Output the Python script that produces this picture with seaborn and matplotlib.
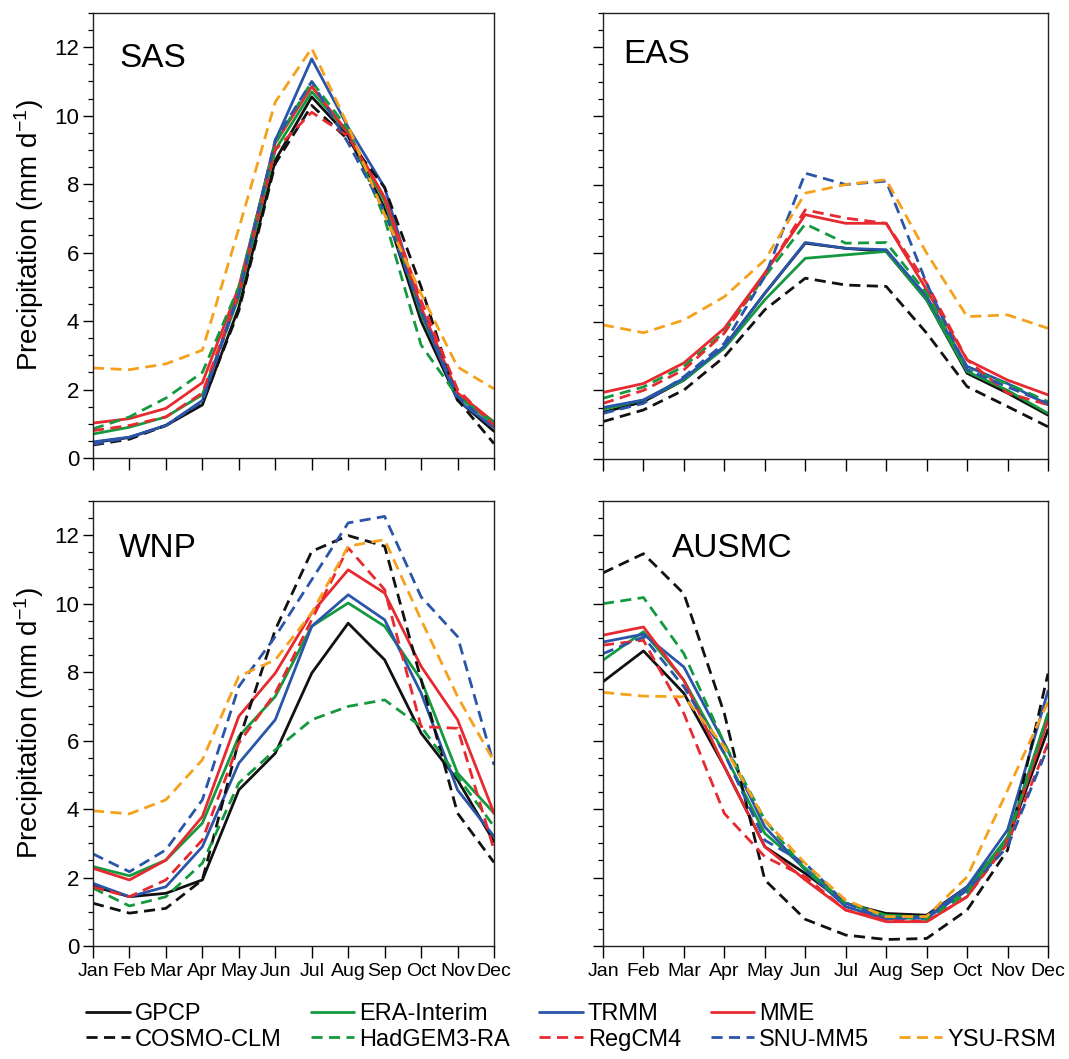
"""
    monthly precipitation climatology over four monsoon regions
"""

import pandas as pd
import matplotlib.pyplot as plt
import seaborn as sns
from matplotlib.lines import Line2D

MONTHS = ['Jan', 'Feb', 'Mar', 'Apr', 'May', 'Jun',
          'Jul', 'Aug', 'Sep', 'Oct', 'Nov', 'Dec']

SERIES = ['GPCP', 'ERA-Interim', 'TRMM', 'MME', 'COSMO-CLM',
          'HadGEM3-RA', 'RegCM4', 'SNU-MM5', 'YSU-RSM']

REGIONS = ['SAS', 'EAS', 'WNP', 'AUSMC']

# monthly means (mm/day), Jan..Dec
SAS = {
    'GPCP':        [0.45, 0.6, 0.95, 1.55, 4.4, 8.7, 10.55, 9.4, 7.3, 4.0, 1.7, 0.78],
    'ERA-Interim': [0.7, 0.9, 1.2, 1.85, 4.7, 9.0, 10.7, 9.5, 7.5, 4.2, 1.8, 1.0],
    'TRMM':        [0.47, 0.61, 0.95, 1.68, 4.9, 9.27, 11.66, 9.66, 7.9, 4.3, 1.68, 0.9],
    'MME':         [1.02, 1.15, 1.45, 2.2, 5.0, 9.2, 10.85, 9.5, 7.6, 4.4, 1.9, 1.05],
    'COSMO-CLM':   [0.38, 0.55, 0.95, 1.6, 4.3, 8.6, 10.3, 9.3, 7.9, 5.0, 1.7, 0.42],
    'HadGEM3-RA':  [0.85, 1.2, 1.75, 2.5, 5.0, 9.2, 11.0, 9.6, 7.0, 3.3, 1.8, 1.05],
    'RegCM4':      [0.8, 0.95, 1.2, 1.9, 4.8, 9.0, 10.1, 9.4, 7.6, 4.6, 2.0, 0.95],
    'SNU-MM5':     [0.4, 0.6, 0.95, 1.65, 4.8, 9.3, 11.0, 9.2, 7.2, 4.3, 1.8, 0.85],
    'YSU-RSM':     [2.63, 2.58, 2.75, 3.15, 6.7, 10.4, 11.97, 9.7, 7.1, 4.8, 2.66, 2.02],
}

EAS = {
    'GPCP':        [1.36, 1.67, 2.3, 3.28, 4.83, 6.29, 6.14, 6.05, 4.64, 2.5, 1.92, 1.28],
    'ERA-Interim': [1.45, 1.72, 2.3, 3.23, 4.64, 5.85, 5.95, 6.05, 4.64, 2.55, 2.0, 1.33],
    'TRMM':        [1.5, 1.72, 2.35, 3.28, 4.83, 6.31, 6.14, 6.1, 4.74, 2.7, 2.2, 1.58],
    'MME':         [1.94, 2.2, 2.8, 3.81, 5.42, 7.12, 6.87, 6.87, 4.93, 2.89, 2.3, 1.87],
    'COSMO-CLM':   [1.09, 1.43, 2.01, 2.98, 4.35, 5.27, 5.07, 5.03, 3.67, 2.11, 1.53, 0.94],
    'HadGEM3-RA':  [1.77, 2.1, 2.7, 3.7, 5.32, 6.85, 6.29, 6.31, 4.83, 2.6, 2.2, 1.67],
    'RegCM4':      [1.62, 2.0, 2.6, 3.67, 5.4, 7.26, 7.02, 6.87, 5.12, 2.89, 1.92, 1.58],
    'SNU-MM5':     [1.33, 1.62, 2.4, 3.37, 5.32, 8.33, 8.0, 8.1, 5.12, 2.6, 2.1, 1.62],
    'YSU-RSM':     [3.91, 3.68, 4.05, 4.73, 5.8, 7.75, 8.0, 8.14, 6.0, 4.15, 4.2, 3.81],
}

WNP = {
    'GPCP':        [1.75, 1.44, 1.54, 1.93, 4.56, 5.63, 7.97, 9.43, 8.36, 6.22, 4.85, 3.05],
    'ERA-Interim': [2.32, 2.05, 2.51, 3.59, 6.12, 7.29, 9.34, 10.02, 9.34, 7.78, 5.05, 3.88],
    'TRMM':        [1.83, 1.44, 1.73, 2.9, 5.34, 6.61, 9.34, 10.26, 9.53, 7.39, 4.56, 3.2],
    'MME':         [2.27, 1.93, 2.51, 3.78, 6.71, 7.97, 9.73, 10.99, 10.31, 8.17, 6.61, 3.88],
    'COSMO-CLM':   [1.25, 0.96, 1.1, 1.93, 6.0, 9.24, 11.53, 11.99, 11.68, 7.78, 3.88, 2.44],
    'HadGEM3-RA':  [1.69, 1.17, 1.44, 2.42, 4.76, 5.73, 6.61, 7.0, 7.19, 6.41, 4.95, 3.49],
    'RegCM4':      [1.72, 1.44, 1.93, 3.1, 5.93, 7.39, 9.53, 11.63, 10.41, 6.41, 6.36, 2.81],
    'SNU-MM5':     [2.69, 2.17, 2.81, 4.27, 7.58, 9.04, 10.7, 12.36, 12.55, 10.2, 9.04, 5.29],
    'YSU-RSM':     [3.95, 3.86, 4.27, 5.44, 7.88, 8.36, 9.73, 11.68, 11.87, 9.53, 7.29, 5.39],
}

AUSMC = {
    'GPCP':        [7.72, 8.62, 7.38, 5.24, 2.9, 2.12, 1.25, 0.95, 0.9, 1.73, 3.09, 6.32],
    'ERA-Interim': [8.35, 9.18, 7.76, 5.62, 3.29, 2.27, 1.25, 0.9, 0.84, 1.63, 3.19, 6.79],
    'TRMM':        [8.88, 9.11, 8.15, 5.92, 3.48, 2.22, 1.15, 0.78, 0.86, 1.73, 3.39, 7.45],
    'MME':         [9.08, 9.32, 7.76, 5.24, 2.9, 1.93, 1.05, 0.71, 0.71, 1.44, 3.09, 6.6],
    'COSMO-CLM':   [10.9, 11.46, 10.29, 6.79, 1.93, 0.78, 0.32, 0.19, 0.22, 1.05, 2.8, 7.96],
    'HadGEM3-RA':  [10.0, 10.18, 8.54, 5.92, 3.68, 2.22, 1.25, 0.86, 0.78, 1.54, 3.09, 6.79],
    'RegCM4':      [8.79, 8.93, 6.79, 3.87, 2.61, 2.02, 1.05, 0.76, 0.71, 1.44, 3.0, 5.92],
    'SNU-MM5':     [8.54, 9.03, 7.57, 5.62, 3.09, 2.41, 1.25, 0.81, 0.81, 1.63, 2.9, 5.82],
    'YSU-RSM':     [7.41, 7.3, 7.28, 5.82, 3.68, 2.41, 1.34, 0.86, 0.86, 2.02, 4.55, 7.13],
}

COLORS = {
    'GPCP': '#111111', 'ERA-Interim': '#14993f', 'TRMM': '#2a55a8',
    'MME': '#e62a30', 'COSMO-CLM': '#111111', 'HadGEM3-RA': '#14993f',
    'RegCM4': '#e62a30', 'SNU-MM5': '#2a55a8', 'YSU-RSM': '#f5a11c',
}
DASH = (4.0, 2.3)
DASHES = {s: ('' if i < 4 else DASH) for i, s in enumerate(SERIES)}


def to_long(region_data):
    rows = []
    for s in SERIES:
        for m, v in enumerate(region_data[s]):
            rows.append({'month': m, 'precip': v, 'series': s})
    return pd.DataFrame(rows)


sns.set_style('ticks')
plt.rcParams['font.family'] = ['Liberation Sans', 'DejaVu Sans']
plt.rcParams['mathtext.default'] = 'regular'
for key in ['text.color', 'axes.labelcolor', 'xtick.color', 'ytick.color',
            'axes.edgecolor']:
    plt.rcParams[key] = 'black'

fig = plt.figure(figsize=(10.69, 10.59), dpi=100)
W, H = 1069, 1059
# panel boxes in pixels: left, top, right, bottom
boxes = [(93, 13, 494, 458), (603, 13, 1048, 459),
         (93, 501, 494, 946), (603, 501, 1048, 946)]
label_pos = [(0.065, 0.878), (0.045, 0.888), (0.065, 0.874), (0.155, 0.874)]

for k, (name, data) in enumerate(zip(REGIONS, [SAS, EAS, WNP, AUSMC])):
    l, t, r, b = boxes[k]
    ax = fig.add_axes([l / W, 1 - b / H, (r - l) / W, (b - t) / H])
    df = to_long(data)
    sns.lineplot(data=df, x='month', y='precip', hue='series', style='series',
                 hue_order=SERIES, style_order=SERIES, palette=COLORS,
                 dashes=DASHES, linewidth=2.0, legend=False, ax=ax)
    ax.set_xlim(0, 11)
    ax.set_ylim(0, 13)
    ax.set_xticks(range(12))
    ax.set_yticks([0, 2, 4, 6, 8, 10, 12])
    ax.set_yticks([v * 0.5 for v in range(27)], minor=True)
    ax.tick_params(axis='y', which='major', direction='out', length=7,
                   width=1.0, labelsize=16, pad=3)
    ax.tick_params(axis='y', which='minor', direction='out', length=3.5,
                   width=0.9)
    ax.tick_params(axis='x', which='major', direction='out', length=8.5,
                   width=1.0, labelsize=14, pad=4)
    ax.set_xlabel('')
    if k >= 2:
        ax.set_xticklabels(MONTHS)
    else:
        ax.set_xticklabels([])
    if k % 2 == 0:
        ax.set_ylabel('Precipitation (mm d$^{-1}$)', fontsize=20, labelpad=6)
    else:
        ax.set_ylabel('')
        ax.set_yticklabels([])
    for sp in ax.spines.values():
        sp.set_visible(True)
        sp.set_linewidth(1.0)
        sp.set_color('#222222')
    ax.text(label_pos[k][0], label_pos[k][1], name, transform=ax.transAxes,
            fontsize=24, va='baseline', ha='left')

# legend: 2 rows x 5 columns, blank slot above YSU-RSM
handles = []
labels = []
pairs = [('GPCP', 'COSMO-CLM'), ('ERA-Interim', 'HadGEM3-RA'),
         ('TRMM', 'RegCM4'), ('MME', 'SNU-MM5'), (None, 'YSU-RSM')]
for top, bot in pairs:
    for s in (top, bot):
        if s is None:
            handles.append(Line2D([], [], color='none'))
            labels.append(' ')
        else:
            ls = '-' if DASHES[s] == '' else (0, DASH)
            handles.append(Line2D([], [], color=COLORS[s], lw=2.0,
                                  linestyle=ls))
            labels.append(s)

fig.legend(handles, labels, ncol=5, loc='upper left',
           bbox_to_anchor=(86 / W, 1 - 1003 / H), frameon=False,
           fontsize=17, handlelength=1.85, handletextpad=0.2,
           columnspacing=1.25, labelspacing=0.15, borderpad=0,
           borderaxespad=0)

fig.savefig('out.png', dpi=100)
